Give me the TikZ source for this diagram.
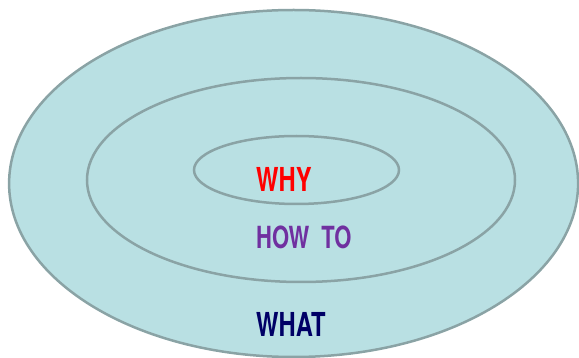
\documentclass[tikz,border=0pt]{standalone}
\usepackage{fontspec}
\usepackage{tikz}
\usetikzlibrary{shapes.geometric}
\newfontfamily\labelfont[FakeStretch=0.72]{TeX Gyre Heros}
\definecolor{ringfill}{RGB}{185,224,227}
\definecolor{ringline}{RGB}{138,163,165}
\definecolor{whyred}{RGB}{255,0,0}
\definecolor{howpurple}{RGB}{112,48,160}
\definecolor{whatnavy}{RGB}{0,0,102}
\begin{document}
\begin{tikzpicture}[
  x=1pt,y=-1pt,
  ring/.style={ellipse,draw=ringline,line width=2.5pt,fill=ringfill,inner sep=0pt},
  word/.style={anchor=base west,inner sep=0pt,font=\labelfont\bfseries\fontsize{33}{33}\selectfont}
]
\useasboundingbox (0,0) rectangle (579,358);
% circles
\node[ring,minimum width=569pt,minimum height=347pt] (what) at (293.6,183.5) {};
\node[ring,minimum width=428pt,minimum height=204pt] (how) at (301,180) {};
\node[ring,minimum width=205pt,minimum height=68pt] (why) at (296.5,170) {};
% labels
\node[word,text=whyred] (whytext) at (256,192) {WHY};
\node[word,text=howpurple,font=\labelfont\bfseries\fontsize{30.5}{30.5}\selectfont] (howtext) at (256,249) {HOW\hspace{12pt}TO};
\node[word,text=whatnavy] (whattext) at (256,337) {WHAT};
\end{tikzpicture}
\end{document}
